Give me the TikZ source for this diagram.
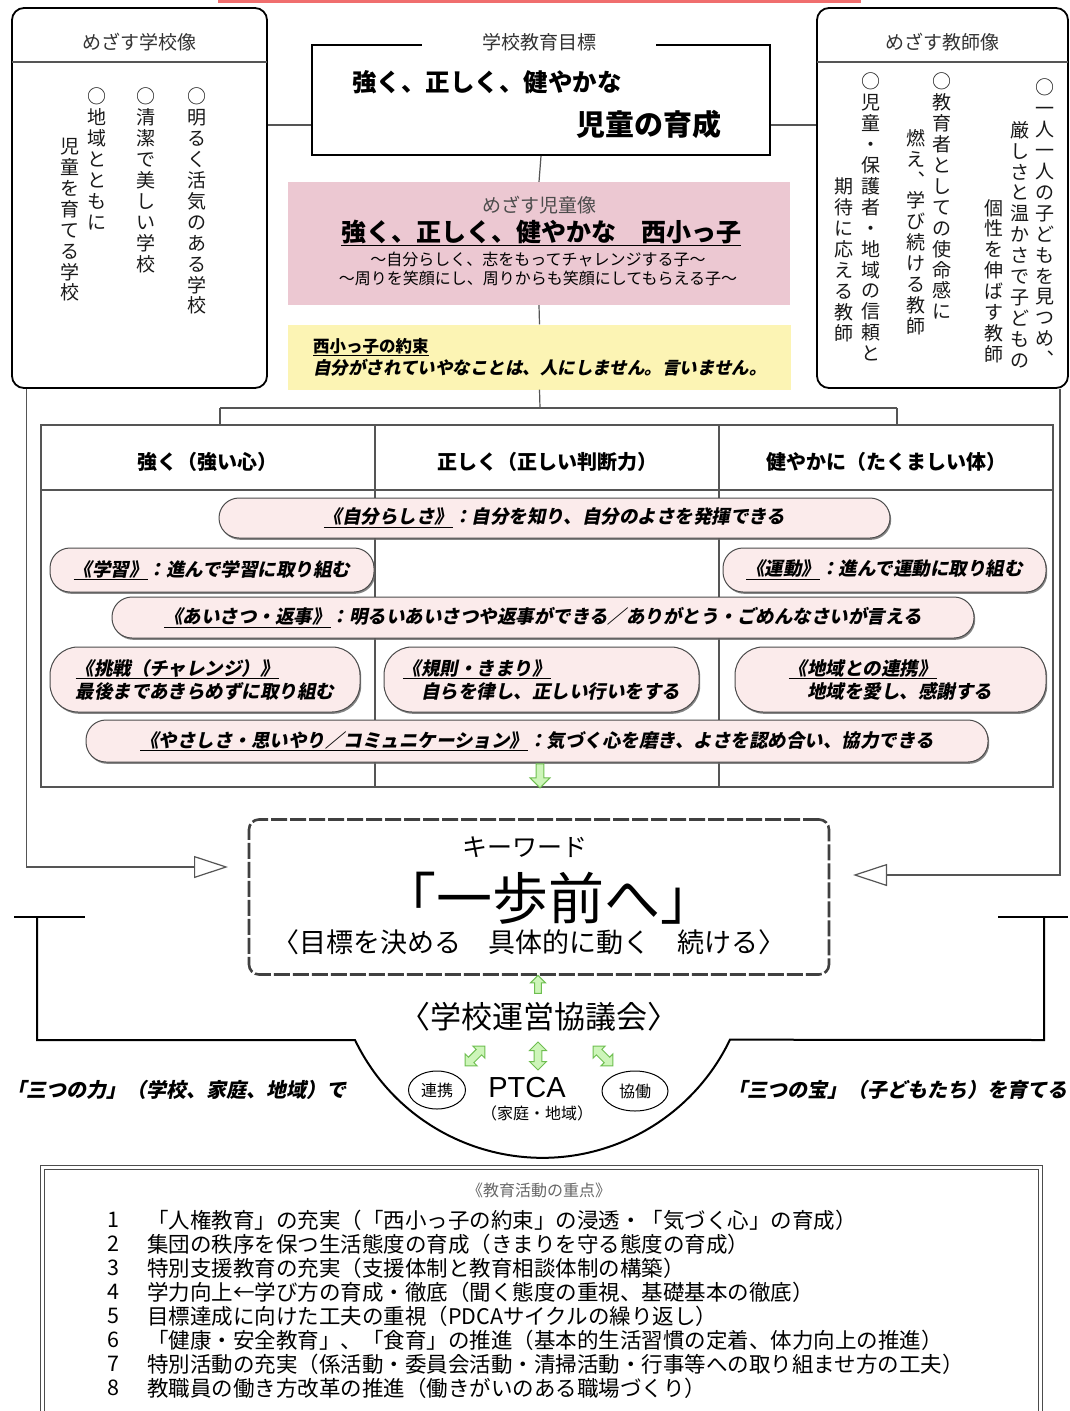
\documentclass[tikz,border=0pt]{standalone}
\usepackage{fontspec}
\setmainfont{Noto Sans CJK JP}
\newfontfamily\slantfont{Noto Sans CJK JP}[FakeSlant=0.2]
\newfontfamily\latinfont{Liberation Sans}
\usetikzlibrary{shapes.geometric, shapes.arrows, arrows.meta, shadows}
\definecolor{kidpink}{RGB}{236, 200, 210}
\definecolor{promyellow}{RGB}{252, 244, 180}
\definecolor{pillpink}{RGB}{251, 235, 235}
\definecolor{arrowgreen}{RGB}{110, 190, 80}
\definecolor{arrowfill}{RGB}{205, 245, 185}
\definecolor{topred}{RGB}{240, 110, 110}
\definecolor{linegray}{RGB}{85, 85, 85}

% vertical (tategaki) column: one glyph per line
\ExplSyntaxOn
\cs_new_protected:Npn \tate_glyph:n #1
  {
    \str_if_eq:nnTF {#1} {、}
      { \hbox_to_wd:nn { 1em } { \hss ︑ \hss } }
      { \hbox_to_wd:nn { 1em } { \hss #1 \hss } }
  }
\NewDocumentCommand \tate { m }
  {
    \vbox:n
      {
        \baselineskip = 1.1em
        \lineskiplimit = -1em
        \tl_map_inline:nn {#1} { \tate_glyph:n {##1} }
      }
  }
\ExplSyntaxOff

\begin{document}
\begin{tikzpicture}[
    x=1pt, y=-1pt,
    roundbox/.style={draw, line width=1.8pt, rounded corners=12pt, inner sep=0pt},
    thinline/.style={draw=linegray, line width=1.2pt},
    tatecol/.style={anchor=north, inner sep=0pt, text=black!90, font=\fontsize{19}{21}\selectfont},
    title/.style={inner sep=0pt, text=black!80, font=\fontsize{19}{22}\selectfont},
    pill/.style={draw=black!70, fill=pillpink, line width=1pt, rounded corners=20pt, inner sep=0pt, align=left,
        drop shadow={shadow xshift=1.2pt, shadow yshift=-1.8pt, fill=black!60, opacity=.8},
        font=\slantfont\bfseries\fontsize{18.5}{23}\selectfont},
    hollow/.style={draw=arrowgreen, fill=arrowfill, line width=1pt, inner sep=2pt},
    opentip/.style={-{Triangle[length=34pt, width=22pt, fill=white]}},
    listitem/.style={anchor=west, inner sep=0pt, font=\fontsize{21.5}{24}\selectfont}
]
\path[fill=white, use as bounding box] (0,0) rectangle (1070,1411);
\fill[topred] (218,0) rectangle (861,3);

% Side boxes
\node[roundbox, minimum width=255pt, minimum height=380pt] (schoolbox) at (139.5,198) {};
\node[title] (schoolhd) at (139.5,42) {めざす学校像};
\draw[thinline] (12,62) -- (267,62);
\node[tatecol] (sc1) at (197,88) {\tate{○明るく活気のある学校}};
\node[tatecol] (sc2) at (146,88) {\tate{○清潔で美しい学校}};
\node[tatecol] (sc3) at (97,88) {\tate{○地域とともに}};
\node[tatecol] (sc4) at (70,138) {\tate{児童を育てる学校}};

\node[roundbox, minimum width=251pt, minimum height=380pt] (teacherbox) at (942.5,198) {};
\node[title] (teacherhd) at (942.5,42) {めざす教師像};
\draw[thinline] (817,62) -- (1068,62);
\node[tatecol] (tc1) at (1045,79) {\tate{○一人一人の子どもを見つめ、}};
\node[tatecol] (tc2) at (1020,121) {\tate{厳しさと温かさで子どもの}};
\node[tatecol] (tc3) at (994,199) {\tate{個性を伸ばす教師}};
\node[tatecol] (tc4) at (942,73) {\tate{○教育者としての使命感に}};
\node[tatecol] (tc5) at (916,129) {\tate{燃え、学び続ける教師}};
\node[tatecol] (tc6) at (871,73) {\tate{○児童・保護者・地域の信頼と}};
\node[tatecol] (tc7) at (844,178) {\tate{期待に応える教師}};

% Goal and kids
\node[draw, line width=1.8pt, minimum width=458pt, minimum height=110pt] (goal) at (541,100) {};
\node[title, fill=white, minimum width=234pt, minimum height=20pt] (goaltitle) at (539,42) {学校教育目標};
\node[anchor=west, inner sep=0pt, font=\bfseries\fontsize{24.5}{26}\selectfont] (goal1) at (352,82) {強く、正しく、健やかな};
\node[anchor=east, inner sep=0pt, font=\bfseries\fontsize{29}{30}\selectfont] (goal2) at (722,124) {児童の育成};

\node[fill=kidpink, minimum width=502pt, minimum height=123pt] (kidbox) at (539,243.5) {};
\node[title, text=black!70] (kidtitle) at (539,205) {めざす児童像};
\node[inner sep=0pt, font=\bfseries\fontsize{25}{26}\selectfont] (kidmain) at (541,233) {\underline{強く、正しく、健やかな　西小っ子}};
\node[inner sep=0pt, font=\fontsize{16}{17}\selectfont] (kidsub1) at (538,259) {～自分らしく、志をもってチャレンジする子～};
\node[inner sep=0pt, font=\fontsize{16}{17}\selectfont] (kidsub2) at (538,278) {～周りを笑顔にし、周りからも笑顔にしてもらえる子～};

\node[fill=promyellow, minimum width=503pt, minimum height=65pt] (promise) at (539.5,357) {};
\node[anchor=west, inner sep=0pt, font=\bfseries\fontsize{16.5}{18}\selectfont] (promhd) at (313,347) {\underline{西小っ子の約束}};
\node[anchor=west, inner sep=0pt, font=\slantfont\bfseries\fontsize{17.5}{19}\selectfont] (promtx) at (313,368) {自分がされていやなことは、人にしません。言いません。};

% Connectors
\draw[thinline] ([yshift=-25pt]goal.west) -- ([yshift=-25pt]goal.west -| schoolbox.east);
\draw[thinline] ([yshift=-25pt]goal.east) -- ([yshift=-25pt]goal.east -| teacherbox.west);
\draw[thinline] (goal.south) -- (kidbox.north);
\draw[thinline] (kidbox.south) -- (promise.north);
\coordinate (branch) at (540,408);
\coordinate (brL) at (220,408);
\coordinate (brR) at (897,408);
\draw[thinline] (promise.south) -- (branch);
\draw[thinline] (brL) -- (brR);

% Table
\node[draw=linegray, line width=1.2pt, minimum width=1012pt, minimum height=362pt, inner sep=0pt] (grid) at (547,606) {};
\draw[thinline] (brL) -- (brL |- grid.north);
\draw[thinline] (brR) -- (brR |- grid.north);
\draw[thinline] (41,490) -- (1053,490);
\draw[thinline] (375,425) -- (375,787);
\draw[thinline] (719,425) -- (719,787);
\node[font=\bfseries\fontsize{20}{22}\selectfont] (hd1) at (207,462) {強く（強い心）};
\node[font=\bfseries\fontsize{20}{22}\selectfont] (hd2) at (547,462) {正しく（正しい判断力）};
\node[font=\bfseries\fontsize{20}{22}\selectfont] (hd3) at (886,462) {健やかに（たくましい体）};

\node[pill, minimum width=671pt, minimum height=40pt] (self) at (554.5,518) {\underline{《自分らしさ》}：自分を知り、自分のよさを発揮できる};
\node[pill, minimum width=324pt, minimum height=44pt] (study) at (212,570) {\underline{《学習》}：進んで学習に取り組む};
\node[pill, minimum width=323pt, minimum height=44pt] (sport) at (884.5,570) {\underline{《運動》}：進んで運動に取り組む};
\node[pill, minimum width=862pt, minimum height=41pt] (greet) at (543,617.5) {\underline{《あいさつ・返事》}：明るいあいさつや返事ができる／ありがとう・ごめんなさいが言える};
\node[pill, rounded corners=28pt, minimum width=310pt, minimum height=65pt] (challenge) at (205,679.5) {\underline{《挑戦（チャレンジ）》}\\最後まであきらめずに取り組む};
\node[pill, rounded corners=28pt, minimum width=315pt, minimum height=65pt] (rules) at (541.5,679.5) {\underline{《規則・きまり》}\\　自らを律し、正しい行いをする};
\node[pill, rounded corners=28pt, minimum width=311pt, minimum height=65pt] (local) at (890.5,679.5) {\underline{《地域との連携》}\\　地域を愛し、感謝する};
\node[pill, minimum width=902pt, minimum height=42pt] (kind) at (537,741) {\underline{《やさしさ・思いやり／コミュニケーション》}：気づく心を磨き、よさを認め合い、協力できる};
\node[hollow, single arrow, rotate=-90, minimum height=24pt, minimum width=20pt, single arrow head extend=4pt] (downarr) at (540,774) {};

% Keyword
\node[draw=black!75, line width=2.6pt, dash pattern=on 16pt off 3pt, rounded corners=10pt, minimum width=580pt, minimum height=155pt] (keyword) at (539,897) {};
\node[inner sep=0pt, font=\fontsize{25}{26}\selectfont] (kwlabel) at (525,847) {キーワード};
\node[inner sep=0pt, font=\fontsize{56}{58}\selectfont] (kwmain) at (548,898) {「一歩前へ」};
\node[inner sep=0pt, font=\fontsize{27}{28}\selectfont] (kwsub) at (529,942) {〈目標を決める　具体的に動く　続ける〉};
\coordinate (kwL) at (228,867);
\coordinate (kwR) at (853,875);
\draw[thinline, opentip] ([xshift=15pt]schoolbox.south west) |- (kwL);
\draw[thinline, opentip] ([xshift=-9pt]teacherbox.south east) |- (kwR);

% Council and PTCA
\node[hollow, single arrow, rotate=90, minimum height=18pt, minimum width=15pt, single arrow head extend=3pt] (uparr) at (538,986) {};
\node[inner sep=0pt, font=\fontsize{31}{32}\selectfont] (council) at (539,1017) {〈学校運営協議会〉};
\node[hollow, double arrow, rotate=45, minimum height=28pt, minimum width=17pt, double arrow head extend=3pt] (dl) at (475,1056) {};
\node[hollow, double arrow, rotate=90, minimum height=28pt, minimum width=17pt, double arrow head extend=3pt] (dm) at (538,1056) {};
\node[hollow, double arrow, rotate=-45, minimum height=28pt, minimum width=17pt, double arrow head extend=3pt] (dr) at (603,1056) {};
\node[draw, ellipse, line width=1pt, minimum width=57pt, minimum height=38pt, inner sep=0pt, font=\fontsize{16}{18}\selectfont] (link) at (437,1090) {連携};
\node[draw, ellipse, line width=1pt, minimum width=66pt, minimum height=40pt, inner sep=0pt, font=\fontsize{16}{18}\selectfont] (collab) at (635,1091) {協働};
\node[inner sep=0pt, font=\latinfont\fontsize{29}{30}\selectfont] (ptca) at (527,1088) {PTCA};
\node[inner sep=0pt, font=\fontsize{16}{17}\selectfont] (home) at (537,1113) {（家庭・地域）};

\draw[line width=2pt] (14,917) -- (85,917);
\draw[line width=2pt] (998,917) -- (1068,917);
\draw[line width=2pt] (37,917) -- (37,1040) -- (355,1040) arc[start angle=154.3, end angle=25.6, radius=208] -- (1044,1040) -- (1044,917);
\node[anchor=west, inner sep=0pt, font=\slantfont\bfseries\fontsize{20}{21}\selectfont] (threepow) at (6,1090) {「三つの力」（学校、家庭、地域）で};
\node[anchor=east, inner sep=0pt, font=\slantfont\bfseries\fontsize{20}{21}\selectfont] (treasure) at (1068,1090) {「三つの宝」（子どもたち）を育てる};

% Focus list
\node[draw=black!70, line width=1pt, double, double distance=3pt, minimum width=998pt, minimum height=270pt] (listbox) at (541,1302) {};
\node[inner sep=0pt, text=black!60, font=\fontsize{16}{17}\selectfont] (listhd) at (539,1190) {《教育活動の重点》};
\foreach \num/\txt in {
    1/{「人権教育」の充実（「西小っ子の約束」の浸透・「気づく心」の育成）},
    2/{集団の秩序を保つ生活態度の育成（きまりを守る態度の育成）},
    3/{特別支援教育の充実（支援体制と教育相談体制の構築）},
    4/{学力向上←学び方の育成・徹底（聞く態度の重視、基礎基本の徹底）},
    5/{目標達成に向けた工夫の重視（PDCAサイクルの繰り返し）},
    6/{「健康・安全教育」、「食育」の推進（基本的生活習慣の定着、体力向上の推進）},
    7/{特別活動の充実（係活動・委員会活動・清掃活動・行事等への取り組ませ方の工夫）},
    8/{教職員の働き方改革の推進（働きがいのある職場づくり）}} {
    \node[listitem, anchor=center] (num\num) at (113,1196+24*\num) {\num};
    \node[listitem] (item\num) at (147,1196+24*\num) {\txt};
}
\end{tikzpicture}
\end{document}
